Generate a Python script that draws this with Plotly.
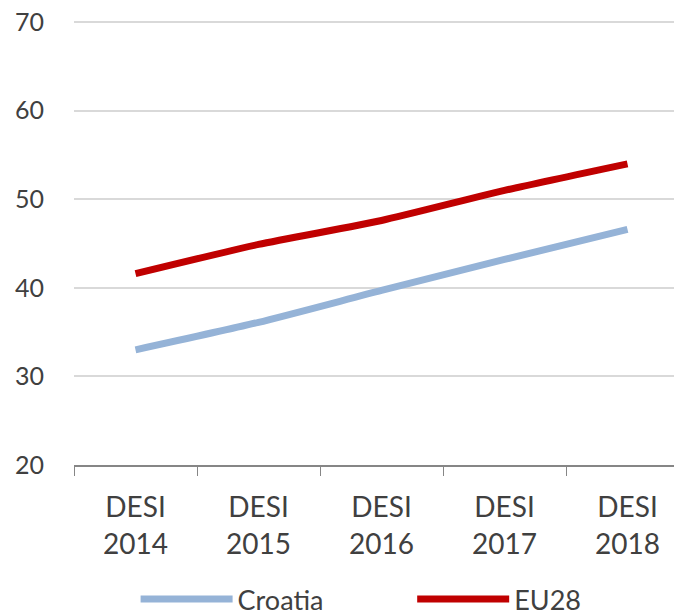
import plotly.graph_objects as go

categories = ["DESI<br>2014", "DESI<br>2015", "DESI<br>2016", "DESI<br>2017", "DESI<br>2018"]
croatia = [33.0, 36.1, 39.7, 43.2, 46.6]
eu28 = [41.6, 44.9, 47.6, 51.0, 54.0]
y_ticks = [20, 30, 40, 50, 60, 70]

fig = go.Figure()
fig.add_trace(go.Scatter(x=categories, y=croatia, name="Croatia", mode="lines",
                         legend="legend",
                         line=dict(color="#95B3D7", width=7, shape="spline", smoothing=0.6)))
fig.add_trace(go.Scatter(x=categories, y=eu28, name="EU28", mode="lines",
                         legend="legend2",
                         line=dict(color="#C00000", width=7, shape="spline", smoothing=0.6)))

leg_common = dict(orientation="h", xanchor="left", y=-0.303, yanchor="middle",
                  font=dict(size=27, color="#404040"), itemwidth=92,
                  bgcolor="rgba(0,0,0,0)", borderwidth=0)

fig.update_layout(
    width=682, height=614,
    margin=dict(l=66, r=0, t=13, b=157, autoexpand=False),
    paper_bgcolor="white", plot_bgcolor="white",
    font=dict(family="Lato, Open Sans, sans-serif", size=27, color="#404040"),
    showlegend=True,
    legend=dict(x=0.1, **leg_common),
    legend2=dict(x=0.549, **leg_common),
    xaxis=dict(type="category", range=[-0.5, 4.508], showgrid=False, automargin=False,
               showline=True, linecolor="#868686", linewidth=1.5,
               ticks="outside", tickson="boundaries", ticklen=9, tickcolor="#868686",
               ticklabelstandoff=17, tickfont=dict(size=28, color="#404040")),
    yaxis=dict(range=[20, 70.12], tickvals=y_ticks, showgrid=True, gridcolor="#D9D9D9",
               gridwidth=1.5, zeroline=False, showline=False, ticks="", automargin=False,
               ticklabeloverflow="allow",
               ticklabelstandoff=29, tickfont=dict(size=25, color="#404040")),
)

fig.write_html("out.html")
